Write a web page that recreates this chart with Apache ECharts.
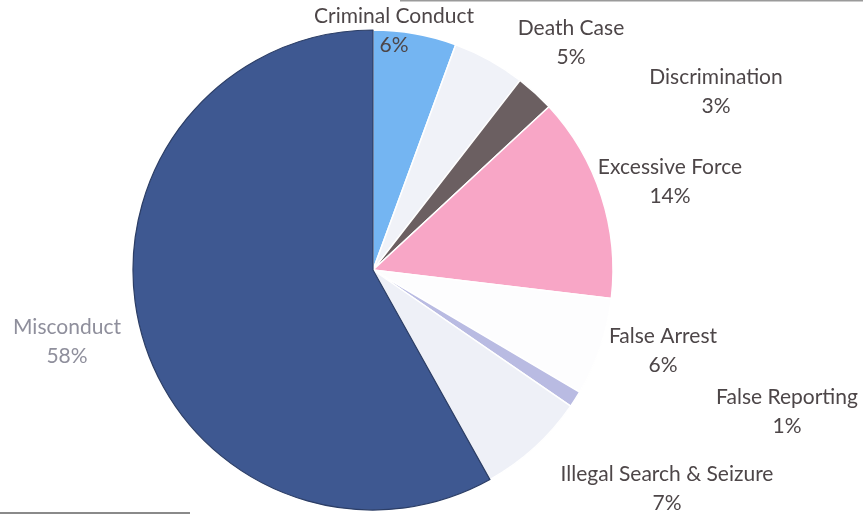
<!DOCTYPE html>
<html>
<head>
<meta charset="utf-8">
<script src="https://cdn.jsdelivr.net/npm/echarts@6/dist/echarts.min.js"></script>
<style>
  html, body { margin: 0; padding: 0; background: #fff; }
  #chart { width: 863px; height: 514px; }
</style>
</head>
<body>
<div id="chart"></div>
<script>
// complaint categories, clockwise from 12 o'clock
const categories = ['Criminal Conduct', 'Death Case', 'Discrimination', 'Excessive Force',
  'False Arrest', 'False Reporting', 'Illegal Search & Seizure', 'Misconduct']
// slice shares
const shares = [5.6, 4.9, 2.6, 13.8, 6.6, 1.1, 7.3, 58.1]
// percentages printed on the labels
const pctLabels = ['6%', '5%', '3%', '14%', '6%', '1%', '7%', '58%']

const colors = ['#74b5f2', '#f0f2f8', '#6b5f61', '#f8a6c6', '#fdfdfe', '#b9bbe2', '#eef0f7', '#3e5891']
// label block centres
const labelPos = [[394, 31], [571, 43], [716, 92], [670, 182], [663, 351], [787, 412], [667, 489], [67, 342]]

const chart = echarts.init(document.getElementById('chart'))

chart.setOption({
  backgroundColor: '#fff',
  animation: false,
  graphic: [
    { type: 'line', shape: { x1: 400, y1: 0.5, x2: 863, y2: 0.5 }, style: { stroke: '#9a9a9a', lineWidth: 2 } },
    { type: 'line', shape: { x1: 0, y1: 513, x2: 190, y2: 513 }, style: { stroke: '#8a8a8a', lineWidth: 2 } }
  ],
  series: [{
    type: 'pie',
    center: [373, 270],
    radius: 240,
    startAngle: 90,
    clockwise: true,
    avoidLabelOverlap: false,
    data: categories.map((name, i) => ({
      name,
      value: shares[i],
      itemStyle: {
        color: colors[i],
        borderColor: i === 7 ? '#2c3e66' : '#ffffff',
        borderWidth: i === 7 ? 1.2 : 1.5
      },
      label: i === 7 ? { color: '#8f8f9c' } : {}
    })),
    label: {
      show: true,
      formatter: p => p.name + '\n' + pctLabels[p.dataIndex],
      fontFamily: 'Lato',
      fontSize: 21,
      lineHeight: 29,
      color: '#4d4648',
      align: 'center'
    },
    labelLine: { show: false },
    labelLayout: p => ({
      x: labelPos[p.dataIndex][0],
      y: labelPos[p.dataIndex][1],
      align: 'center',
      verticalAlign: 'middle'
    })
  }]
})
</script>
</body>
</html>
